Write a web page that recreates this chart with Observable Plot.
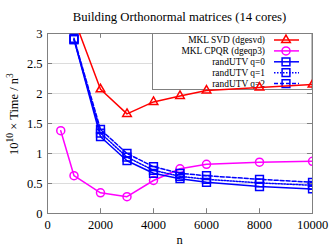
<!DOCTYPE html>
<html><head><meta charset="utf-8">
<script src="https://cdn.jsdelivr.net/npm/d3@7"></script>
<script src="https://cdn.jsdelivr.net/npm/@observablehq/plot@0.6"></script>
<style>body{margin:0;background:#fff} svg, svg text{font-family:"Liberation Serif","Times New Roman",Times,serif !important}</style>
</head><body><div id="chart"></div>
<script>
const title = "Building Orthonormal matrices (14 cores)";
const xLabel = "n";
const nSVD = [1000, 2000, 3000, 4000, 5000, 6000, 8000, 10000];
const svd = [3.25, 2.07, 1.66, 1.86, 1.96, 2.05, 2.10, 2.15];
const nCPQR = [500, 1000, 2000, 3000, 4000, 5000, 6000, 8000, 10000];
const cpqr = [1.38, 0.63, 0.345, 0.28, 0.55, 0.745, 0.82, 0.855, 0.87];
const nUTV = [1000, 2000, 3000, 4000, 5000, 6000, 8000, 10000];
const utvQ0 = [2.90, 1.28, 0.88, 0.67, 0.58, 0.52, 0.45, 0.41];
const utvQ1 = [2.90, 1.34, 0.94, 0.72, 0.62, 0.57, 0.51, 0.47];
const utvQ2 = [2.92, 1.40, 1.00, 0.78, 0.67, 0.63, 0.57, 0.52];
const xTicks = [0, 2000, 4000, 6000, 8000, 10000];
const yTicks = [0, 0.5, 1, 1.5, 2, 2.5, 3];
const seriesNames = ["MKL SVD (dgesvd)", "MKL CPQR (dgeqp3)", "randUTV q=0", "randUTV q=1", "randUTV q=2"];

const series = [
  {name: seriesNames[0], xs: nSVD, ys: svd, color: "#ff0000", symbol: "triangle", r: 3.2, dash: null},
  {name: seriesNames[1], xs: nCPQR, ys: cpqr, color: "#ff00ff", symbol: "circle", r: 4, dash: null},
  {name: seriesNames[2], xs: nUTV, ys: utvQ0, color: "#0000ff", symbol: "square", r: 4.4, dash: null},
  {name: seriesNames[3], xs: nUTV, ys: utvQ1, color: "#0000ff", symbol: "square", r: 4.4, dash: "1.5,1.5"},
  {name: seriesNames[4], xs: nUTV, ys: utvQ2, color: "#0000ff", symbol: "square", r: 4.4, dash: "4,2"}
];
const rows = series.map(s => s.xs.map((x, i) => ({x, y: s.ys[i]})));

const marks = [
  Plot.ruleY(yTicks.slice(1, -1), {stroke: "#dcdcdc", strokeWidth: 1}),
  Plot.frame({stroke: "#808080"}),
  Plot.ruleX(xTicks, {x: d => d, y1: 0, y2: 0.08, stroke: "#808080"}),
  Plot.ruleX(xTicks, {x: d => d, y1: 2.92, y2: 3, stroke: "#808080"}),
  Plot.ruleY(yTicks, {y: d => d, x1: 0, x2: 190, stroke: "#808080"}),
  Plot.ruleY(yTicks, {y: d => d, x1: 9810, x2: 10000, stroke: "#808080"}),
  Plot.axisX(xTicks, {tickSize: 0, tickPadding: 6.5, fontSize: 12.5, label: null, tickFormat: d => String(d)}),
  Plot.axisY(yTicks, {tickSize: 0, tickPadding: 5, fontSize: 12.5, label: null, tickFormat: d => String(d)}),
];
series.forEach((s, i) => {
  marks.push(Plot.line(rows[i], {x: "x", y: "y", stroke: s.color, strokeWidth: 1.5, strokeDasharray: s.dash, clip: true}));
  marks.push(Plot.dot(rows[i], {x: "x", y: "y", stroke: s.color, strokeWidth: 1.5, fill: "none", symbol: s.symbol, r: s.r, clip: true}));
});

const chart = Plot.plot({
  width: 332, height: 249,
  marginLeft: 47, marginRight: 20, marginTop: 33, marginBottom: 36,
  style: {fontSize: "12px", background: "#fff", color: "#000"},
  x: {domain: [0, 10000]},
  y: {domain: [0, 3]},
  marks
});
document.getElementById("chart").append(chart);

const svg = d3.select(chart);
svg.append("text").attr("x", 179.5).attr("y", 21).attr("text-anchor", "middle")
  .attr("font-size", 12.7).attr("fill", "#000").text(title);
svg.append("text").attr("x", 179.5).attr("y", 244).attr("text-anchor", "middle")
  .attr("font-size", 12.5).attr("fill", "#000").text(xLabel);
const yl = svg.append("text").attr("transform", "translate(18,114) rotate(-90)")
  .attr("text-anchor", "middle").attr("font-size", 12.5).attr("fill", "#000");
yl.append("tspan").text("10");
yl.append("tspan").attr("dy", -5).attr("font-size", 9.5).text("10");
yl.append("tspan").attr("dy", 5).text(" \u00d7 Time / n");
yl.append("tspan").attr("dy", -5).attr("font-size", 9.5).text("3");

const firstLine = chart.querySelector('g[aria-label="line"]');
const lg = d3.create("svg:g");
lg.append("rect").attr("x", 152.5).attr("y", 33.5).attr("width", 159.5).attr("height", 56)
  .attr("fill", "#fff").attr("stroke", "#808080");
series.forEach((s, i) => {
  const yy = 40 + i * 10.9;
  lg.append("text").attr("x", 265).attr("y", yy + 3.2).attr("text-anchor", "end")
    .attr("font-size", 9.4).attr("fill", "#000").text(s.name);
  lg.append("line").attr("x1", 274).attr("x2", 299).attr("y1", yy).attr("y2", yy)
    .attr("stroke", s.color).attr("stroke-width", 1.5).attr("stroke-dasharray", s.dash);
  const sym = {triangle: d3.symbolTriangle, circle: d3.symbolCircle, square: d3.symbolSquare}[s.symbol];
  lg.append("path").attr("transform", `translate(286,${yy})`)
    .attr("d", d3.symbol(sym, Math.PI * s.r * s.r)())
    .attr("fill", "none").attr("stroke", s.color).attr("stroke-width", 1.5);
});
chart.insertBefore(lg.node(), firstLine);
</script></body></html>
